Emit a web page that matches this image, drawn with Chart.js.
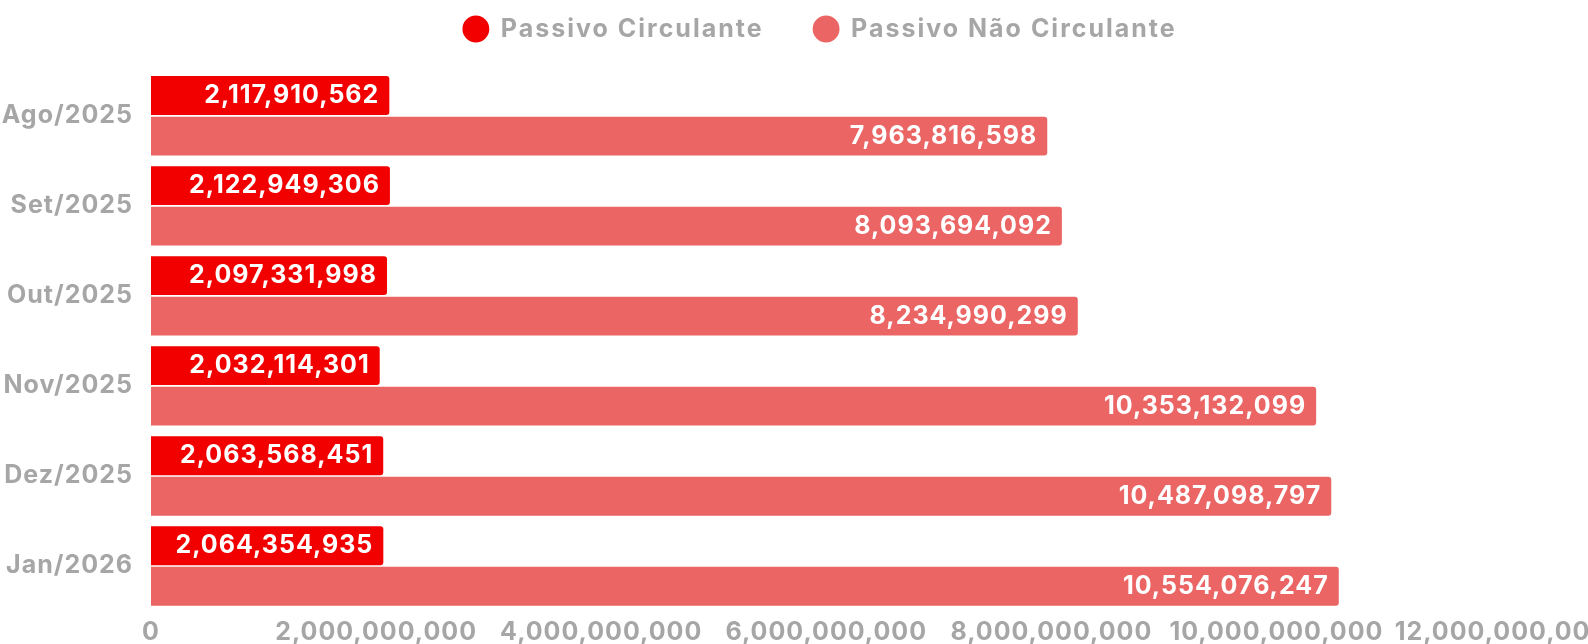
<!DOCTYPE html>
<html>
<head>
<meta charset="utf-8">
<script src="https://cdn.jsdelivr.net/npm/chart.js@4/dist/chart.umd.min.js"></script>
<style>
html,body{margin:0;padding:0;background:#fff;}
#wrap{width:1588px;height:644px;position:relative;}
</style>
</head>
<body>
<div id="wrap"><canvas id="c"></canvas></div>
<script>
const categories = ['Ago/2025','Set/2025','Out/2025','Nov/2025','Dez/2025','Jan/2026'];
const passivoCirculante = [2117910562, 2122949306, 2097331998, 2032114301, 2063568451, 2064354935];
const passivoNaoCirculante = [7963816598, 8093694092, 8234990299, 10353132099, 10487098797, 10554076247];
const seriesNames = ['Passivo Circulante', 'Passivo Não Circulante'];
const xMin = 0, xMax = 12000000000, xStep = 2000000000;

const FONT = 'Inter';
const FSIZE = 25;
const SPACING = '1px';
const LEGEND_SPACING = '2px';
const LEGEND_SHIFT = 26;
const GREY = '#A6A6A6';
const fmt = v => Number(v).toLocaleString('en-US');

function withSpacing(obj, name, sp) {
  const orig = obj[name];
  obj[name] = function (...args) {
    const c = this.ctx;
    const prev = c.letterSpacing;
    c.letterSpacing = sp;
    try { return orig.apply(this, args); } finally { c.letterSpacing = prev; }
  };
}

const spacingPlugin = {
  id: 'spacing',
  afterInit(chart) {
    if (chart.legend) {
      withSpacing(chart.legend, 'fit', LEGEND_SPACING);
      withSpacing(chart.legend, 'draw', LEGEND_SPACING);
    }
  },
  beforeUpdate(chart) { chart.ctx.letterSpacing = SPACING; },
  beforeLayout(chart) { chart.ctx.letterSpacing = SPACING; },
  afterLayout(chart) {
    if (chart.legend) { chart.legend.left += LEGEND_SHIFT; chart.legend.right += LEGEND_SHIFT; }
  },
  beforeDraw(chart) { chart.ctx.letterSpacing = SPACING; }
};

const valueLabels = {
  id: 'valueLabels',
  afterDatasetsDraw(chart) {
    const ctx = chart.ctx;
    ctx.save();
    ctx.letterSpacing = SPACING;
    ctx.font = '700 ' + FSIZE + 'px ' + FONT;
    ctx.fillStyle = '#FFFFFF';
    ctx.textAlign = 'right';
    ctx.textBaseline = 'middle';
    chart.data.datasets.forEach((ds, i) => {
      const meta = chart.getDatasetMeta(i);
      meta.data.forEach((el, j) => {
        ctx.fillText(fmt(ds.data[j]), el.x - 10, el.y);
      });
    });
    ctx.restore();
  }
};

new Chart(document.getElementById('c'), {
  type: 'bar',
  data: {
    labels: categories,
    datasets: [
      { label: seriesNames[0], data: passivoCirculante, backgroundColor: '#F20000', borderRadius: 3, categoryPercentage: 0.9, barPercentage: 0.96 },
      { label: seriesNames[1], data: passivoNaoCirculante, backgroundColor: '#EB6565', borderRadius: 3, categoryPercentage: 0.9, barPercentage: 0.96 }
    ]
  },
  options: {
    indexAxis: 'y',
    responsive: true,
    maintainAspectRatio: false,
    animation: false,
    layout: { padding: { top: -33.5, bottom: -3, left: 0, right: 0 } },
    plugins: {
      legend: {
        position: 'top',
        labels: {
          usePointStyle: true,
          pointStyle: 'circle',
          boxHeight: 19,
          color: GREY,
          padding: 50,
          font: { family: FONT, size: FSIZE, weight: '700' }
        }
      },
      subtitle: {
        display: true,
        text: '',
        weight: 500,
        font: { size: 1, lineHeight: 1 },
        padding: { top: 10, bottom: 8.3 }
      },
      tooltip: { enabled: false }
    },
    scales: {
      x: {
        min: xMin, max: xMax,
        grid: { display: false, tickLength: 6 },
        border: { display: false },
        ticks: {
          stepSize: xStep,
          color: GREY,
          padding: 0,
          maxRotation: 0,
          autoSkip: false,
          font: { family: FONT, size: FSIZE, weight: '700' },
          callback: v => fmt(v)
        },
        afterFit: s => { s.paddingRight = 86.5; s.paddingLeft = 0; }
      },
      y: {
        grid: { display: false, drawTicks: false },
        border: { display: false },
        ticks: {
          color: GREY,
          padding: 18,
          font: { family: FONT, size: FSIZE, weight: '700' }
        },
        afterFit: s => { s.width = 151; }
      }
    }
  },
  plugins: [spacingPlugin, valueLabels]
});
</script>
</body>
</html>
